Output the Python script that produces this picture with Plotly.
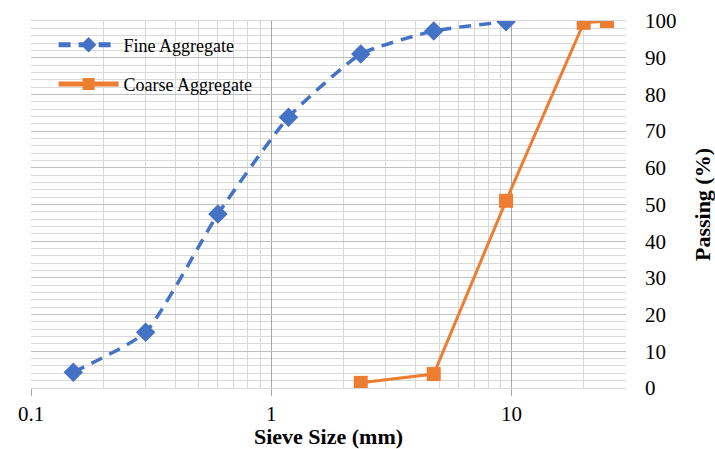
import plotly.graph_objects as go

# Sieve analysis data
fine_size = [0.15, 0.3, 0.6, 1.18, 2.36, 4.75, 9.5]
fine_passing = [4.3, 15.2, 47.4, 73.8, 91.0, 97.3, 99.8]
coarse_size = [2.36, 4.75, 9.5, 20, 25]
coarse_passing = [1.4, 3.8, 51.0, 99.5, 100.0]

x_ticks = [0.1, 1, 10]
x_labels = ["0.1", "1", "10"]
y_ticks = list(range(0, 101, 10))

BLUE = "#4472C4"
ORANGE = "#ED7D31"
FONT = "Liberation Serif"

fig = go.Figure()
fig.add_trace(go.Scatter(
    x=fine_size, y=fine_passing, name="Fine Aggregate", mode="lines+markers",
    legendgroup="fine",
    line=dict(color=BLUE, width=3.5, dash="12px,8px", shape="spline", smoothing=0.5),
    marker=dict(symbol="diamond", size=15, color=BLUE),
))
fig.add_trace(go.Scatter(
    x=coarse_size, y=coarse_passing, name="Coarse Aggregate", mode="lines+markers",
    legendgroup="coarse",
    line=dict(color=ORANGE, width=3),
    marker=dict(symbol="square", size=14, color=ORANGE),
))

# white panel behind the legend, above the gridlines
fig.add_shape(type="rect", xref="paper", yref="paper", x0=0, x1=0.415, y0=0.772, y1=1,
              fillcolor="white", line=dict(width=0), layer="between")

fig.update_layout(
    width=715, height=449,
    margin=dict(l=31, r=89, t=21, b=61),
    paper_bgcolor="white", plot_bgcolor="white",
    font=dict(family=FONT, size=21, color="black"),
    showlegend=True,
    legend=dict(x=0.038, y=0.985, xanchor="left", yanchor="top",
                bgcolor="rgba(0,0,0,0)", font=dict(family=FONT, size=18),
                itemwidth=60, tracegroupgap=13, itemsizing="constant"),
    xaxis=dict(
        type="log", range=[-1, 1.4771],
        tickvals=x_ticks, ticktext=x_labels,
        showgrid=True, gridcolor="#A6A6A6", gridwidth=1,
        ticks="outside", ticklen=7, tickcolor="#A6A6A6",
        minor=dict(tickvals=[v * m for v in x_ticks for m in range(2, 10)],
                   showgrid=True, gridcolor="#D9D9D9", gridwidth=1, ticks=""),
        showline=True, linecolor="#D9D9D9", mirror=True,
        zeroline=False,
        tickfont=dict(family=FONT, size=21),
        title=dict(text="<b>Sieve Size (mm)</b>", font=dict(family=FONT, size=22), standoff=2),
        automargin=False,
    ),
    yaxis=dict(
        side="right", range=[0, 100],
        tickvals=y_ticks,
        showgrid=True, gridcolor="#BFBFBF", gridwidth=1,
        minor=dict(dtick=2, showgrid=True, gridcolor="#D9D9D9", gridwidth=1, ticks=""),
        showline=False, zeroline=False,
        ticks="", ticklabelstandoff=18,
        tickfont=dict(family=FONT, size=21),
        title=dict(text="<b>Passing (%)</b>", font=dict(family=FONT, size=22), standoff=20),
        automargin=False,
    ),
)

fig.write_html("out.html")
